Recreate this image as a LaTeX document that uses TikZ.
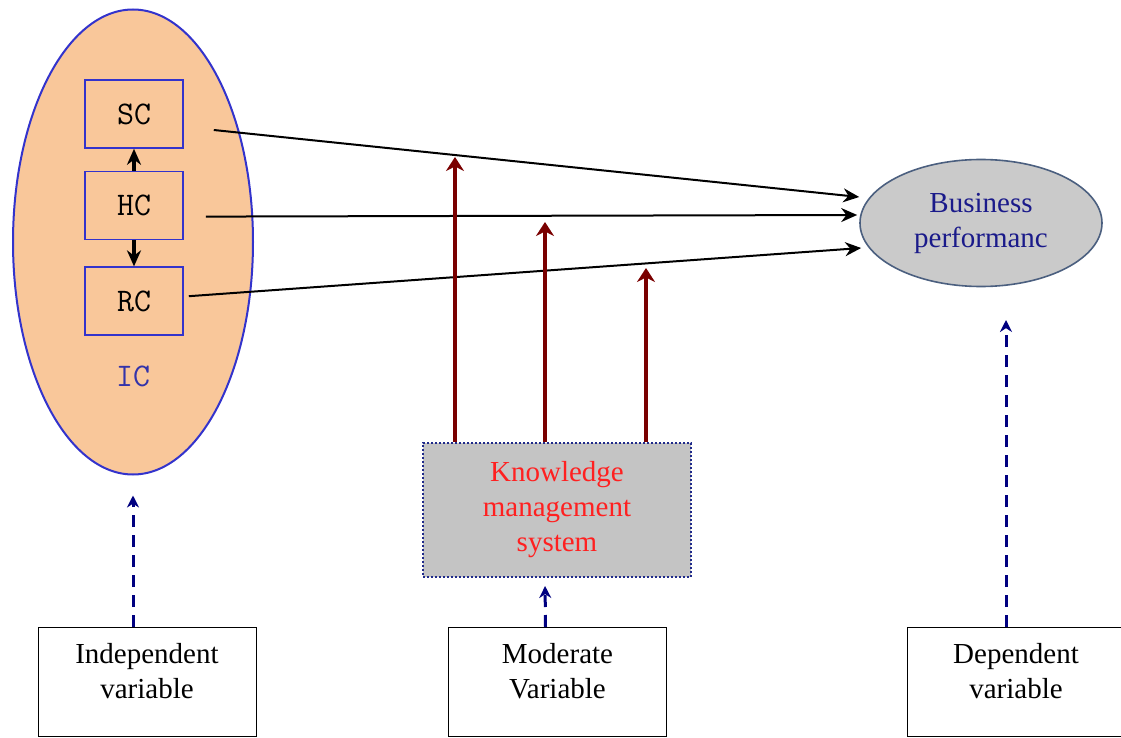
\documentclass[tikz,border=0pt]{standalone}
\usepackage{fontspec}
\setmainfont{Liberation Serif}
\usetikzlibrary{arrows.meta,shapes.geometric,positioning}

\definecolor{icfill}{HTML}{F9C79A}
\definecolor{icblue}{HTML}{3333CC}
\definecolor{iclabel}{HTML}{3333AA}
\definecolor{bpfill}{HTML}{CACACA}
\definecolor{bpborder}{HTML}{4B5F7F}
\definecolor{bptext}{HTML}{1A1A8A}
\definecolor{kmsfill}{HTML}{C4C4C4}
\definecolor{kmsborder}{HTML}{1F2A8A}
\definecolor{kmsred}{HTML}{FF2020}
\definecolor{darkred}{HTML}{7A0000}
\definecolor{navy}{HTML}{000080}

\begin{document}
\begin{tikzpicture}[x=0.5pt,y=-0.5pt,>={Stealth[length=8pt,width=7pt]},font=\fontsize{14.5}{17.5}\selectfont]
  \tikzstyle{capbox}=[draw=icblue,line width=0.8pt,fill=icfill,minimum width=49pt,minimum height=34pt,inner sep=0pt,font=\ttfamily\fontsize{16.5}{18}\selectfont]
  \tikzstyle{varbox}=[draw,thin,anchor=north,minimum width=109pt,align=center,inner ysep=8pt,text depth=11pt]
  \tikzstyle{pathline}=[->,line width=1pt]
  \tikzstyle{kmsarrow}=[-{Stealth[length=7pt,width=9pt]},line width=2pt,darkred]
  \tikzstyle{dasharrow}=[-{Stealth[length=6pt,width=6pt]},line width=1.5pt,navy,dash pattern=on 6pt off 4pt]

  \useasboundingbox (0,0) rectangle (1121,738);
  \clip (0,0) rectangle (1121,738);

  % intellectual capital
  \node[ellipse,draw=icblue,line width=1pt,fill=icfill,minimum width=120pt,minimum height=232.5pt,inner sep=0pt] (ic) at (133,242) {};
  \node[text=iclabel,font=\ttfamily\fontsize{16.5}{18}\selectfont] (iclbl) at (133,376) {IC};
  \node[capbox]                  (sc) at (134,114) {SC\hspace{12pt}};
  \node[capbox,below=11pt of sc] (hc)              {HC\hspace{12pt}};
  \node[capbox,below=13pt of hc] (rc)              {RC\hspace{12pt}};

  \node[ellipse,draw=bpborder,line width=0.8pt,fill=bpfill,minimum width=121pt,minimum height=63.5pt,align=center,text=bptext] (bp) at (981,223) {Business\\performanc};

  \node[draw=kmsborder,densely dotted,line width=1pt,fill=kmsfill,minimum width=134pt,minimum height=67pt,align=center,text=kmsred] (kms) at (557,510) {Knowledge\\management\\system};

  % variable boxes
  \node[varbox] (indep) at (147,627)   {Independent\\variable};
  \node[varbox] (moder) at (557.5,627) {Moderate\\Variable};
  \node[varbox] (dep)   at (1016,627)  {Dependent\\variable};

  \draw[->,line width=1.6pt] (hc) -- (sc);
  \draw[->,line width=1.6pt] (hc) -- (rc);

  \draw[pathline] ([xshift=15pt,yshift=-8pt]sc.east) -- ([yshift=13pt]bp.west);
  \draw[pathline] ([xshift=11pt,yshift=-5.5pt]hc.east) -- ([xshift=-1pt,yshift=4pt]bp.west);
  \draw[pathline] ([xshift=2.5pt,yshift=2.5pt]rc.east) -- ([xshift=1pt,yshift=-12.5pt]bp.west);

  \coordinate (t1) at (455,157);
  \coordinate (t2) at (545,222);
  \coordinate (t3) at (646,268);
  \draw[kmsarrow] (kms.north -| t1) -- (t1);
  \draw[kmsarrow] (kms.north -| t2) -- (t2);
  \draw[kmsarrow] (kms.north -| t3) -- (t3);

  \coordinate (deptip) at (1006,320);
  \draw[dasharrow,shorten >=10pt] (indep.north -| ic.south) -- (ic.south);
  \draw[dasharrow,shorten >=4pt] ([xshift=-6pt]moder.north) -- ([xshift=-6pt]kms.south);
  \draw[dasharrow] (dep.north -| deptip) -- (deptip);
\end{tikzpicture}
\end{document}
